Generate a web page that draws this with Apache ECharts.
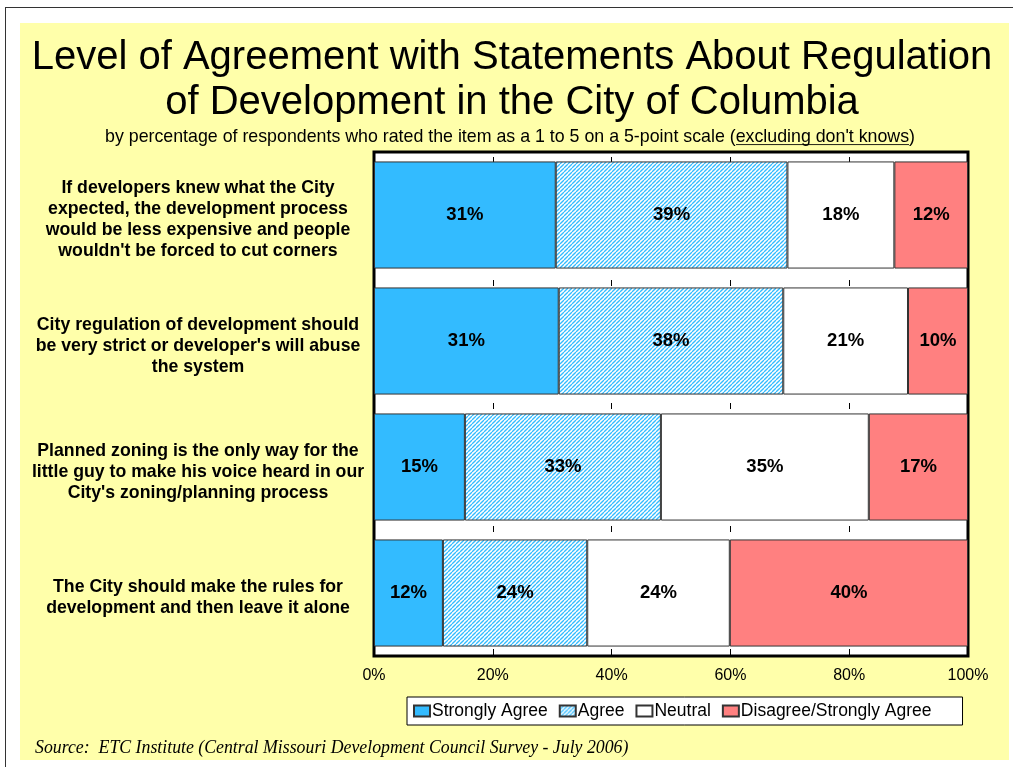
<!DOCTYPE html>
<html>
<head>
<meta charset="utf-8">
<script src="https://cdn.jsdelivr.net/npm/echarts@6/dist/echarts.min.js"></script>
<style>
  html, body { margin: 0; padding: 0; background: #fff; }
  #frame { position: absolute; left: 5px; top: 7px; width: 1100px; height: 900px; border-top: 1px solid #333; border-left: 1px solid #333; }
  #paper { position: absolute; left: 20px; top: 23px; width: 989px; height: 737px; background: #ffffaa; }
  #chart { position: absolute; left: 0; top: 0; width: 1013px; height: 767px; }
</style>
</head>
<body>
<div id="frame"></div>
<div id="paper"></div>
<div id="chart"></div>
<script>
// statements (top to bottom)
var statements = [
    "If developers knew what the City\nexpected, the development process\nwould be less expensive and people\nwouldn't be forced to cut corners",
    "City regulation of development should\nbe very strict or developer's will abuse\nthe system",
    "Planned zoning is the only way for the\nlittle guy to make his voice heard in our\nCity's zoning/planning process",
    "The City should make the rules for\ndevelopment and then leave it alone"
]

var seriesNames = ['Strongly Agree', 'Agree', 'Neutral', 'Disagree/Strongly Agree']

// percentages
var stronglyAgree = [30.6, 31.1, 15.3, 11.6]
var agree = [39.0, 37.8, 33.0, 24.3]
var neutral = [18.0, 21.0, 35.0, 24.0]
var disagree = [12.4, 10.1, 16.7, 40.1]

var xTicks = [0, 20, 40, 60, 80, 100]

var FONT = "'Liberation Sans', Arial, sans-serif"

// diagonal hatch for "Agree"
function makeHatch() {
    var s = 4
    var c = document.createElement('canvas')
    c.width = s; c.height = s
    var ctx = c.getContext('2d')
    ctx.fillStyle = '#ffffff'
    ctx.fillRect(0, 0, s, s)
    ctx.strokeStyle = '#33bbff'
    ctx.lineWidth = 1.3
    for (var k = -1; k <= 1; k++) {
        ctx.beginPath()
        ctx.moveTo(k * s, s)
        ctx.lineTo(k * s + s, 0)
        ctx.stroke()
    }
    return c
}

// underline for the subtitle part
function makeUnderline() {
    var c = document.createElement('canvas')
    c.width = 4; c.height = 20
    var ctx = c.getContext('2d')
    ctx.fillStyle = '#000'
    ctx.fillRect(0, 18, 4, 1)
    return c
}

var hatch = makeHatch()

function barSeries(name, data, color) {
    return {
        name: name,
        type: 'bar',
        stack: 'total',
        barCategoryGap: '15%',
        data: data,
        itemStyle: {
            color: color,
            borderColor: '#333',
            borderWidth: 1
        },
        label: {
            show: true,
            position: 'inside',
            formatter: function (p) { return Math.round(p.value) + '%' },
            color: '#000',
            fontFamily: FONT,
            fontWeight: 'bold',
            fontSize: 18.5
        }
    }
}

var myChart = echarts.init(document.getElementById('chart'))

var option = {
    backgroundColor: 'transparent',
    animation: false,
    title: [
        {
            text: 'Level of Agreement with Statements About Regulation\nof Development in the City of Columbia',
            left: 512,
            top: 35,
            textAlign: 'center',
            padding: 0,
            textStyle: {
                fontFamily: FONT,
                fontWeight: 'normal',
                fontSize: 40,
                lineHeight: 45,
                color: '#000'
            }
        },
        {
            text: "{a|by percentage of respondents who rated the item as a 1 to 5 on a 5-point scale (}{u|excluding don't knows}{a|)}",
            left: 510,
            top: 127,
            textAlign: 'center',
            padding: 0,
            textStyle: {
                rich: {
                    a: { fontFamily: FONT, fontWeight: 'normal', fontSize: 17.8, color: '#000', lineHeight: 20 },
                    u: { fontFamily: FONT, fontWeight: 'normal', fontSize: 17.8, color: '#000', lineHeight: 20,
                         backgroundColor: { image: makeUnderline() } }
                }
            }
        },
        {
            text: 'Source:  ETC Institute (Central Missouri Development Council Survey - July 2006)',
            left: 35,
            top: 739,
            padding: 0,
            textStyle: {
                fontFamily: "'Liberation Serif', 'Times New Roman', serif",
                fontStyle: 'italic',
                fontWeight: 'normal',
                fontSize: 17.8,
                color: '#000'
            }
        }
    ],
    legend: {
        data: seriesNames,
        icon: 'rect',
        left: 407,
        top: 697,
        orient: 'horizontal',
        backgroundColor: '#fff',
        borderColor: '#000',
        borderWidth: 1,
        padding: [5, 31, 5, 6],
        itemWidth: 16,
        itemHeight: 11,
        itemGap: 11,
        textStyle: {
            fontFamily: FONT,
            fontSize: 17.5,
            color: '#000',
            padding: [0, 0, 0, -3]
        }
    },
    grid: {
        left: 374,
        right: 45,
        top: 152,
        bottom: 111,
        show: true,
        backgroundColor: '#fff',
        borderColor: '#000',
        borderWidth: 3,
        containLabel: false
    },
    xAxis: {
        type: 'value',
        min: xTicks[0],
        max: xTicks[xTicks.length - 1],
        interval: 20,
        axisLine: { show: false },
        axisTick: { show: false },
        axisLabel: {
            formatter: '{value}%',
            fontFamily: FONT,
            fontSize: 16,
            color: '#000',
            margin: 12
        },
        splitLine: {
            show: true,
            lineStyle: {
                color: '#000',
                width: 1,
                type: [6, 117],
                dashOffset: 118
            }
        }
    },
    yAxis: {
        type: 'category',
        inverse: true,
        data: statements,
        axisLine: { show: false },
        axisTick: { show: false },
        axisLabel: {
            align: 'center',
            margin: 176,
            fontFamily: FONT,
            fontWeight: 'bold',
            fontSize: 17.7,
            lineHeight: 21,
            color: '#000',
            // a thin empty first line nudges the block down a bit
            formatter: function (v) {
                return '{sp| }\n' + v
            },
            rich: {
                sp: { fontSize: 2, lineHeight: 10 }
            }
        }
    },
    series: [
        barSeries(seriesNames[0], stronglyAgree, '#33bbff'),
        barSeries(seriesNames[1], agree, { image: hatch, repeat: 'repeat' }),
        barSeries(seriesNames[2], neutral, '#ffffff'),
        barSeries(seriesNames[3], disagree, '#ff8080')
    ]
}

myChart.setOption(option)
</script>
</body>
</html>
